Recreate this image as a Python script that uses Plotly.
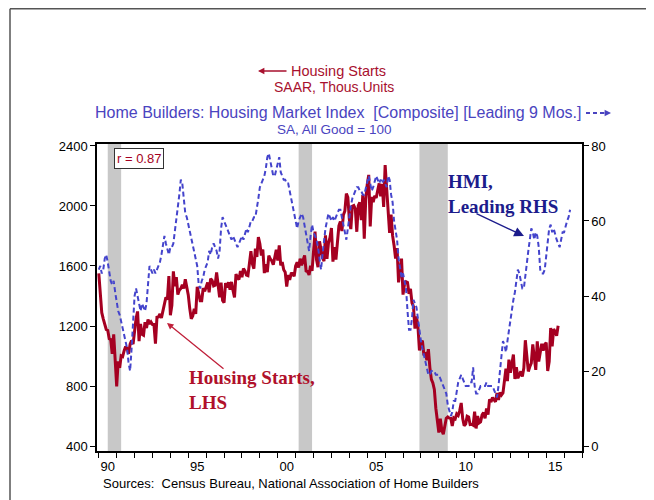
import plotly.graph_objects as go

# ---------------- data ----------------
hs_start_year = 1990  # monthly, Jan 1990 -> Sep 2015, SAAR thous. units
housing_starts = [
    1551, 1437, 1289, 1248, 1212, 1177, 1171, 1115, 1110, 1014, 1145, 969,
    798, 965, 921, 1001, 996, 1036, 1063, 1049, 1015, 1079, 1103, 1079,
    1176, 1250, 1297, 1099, 1214, 1145, 1139, 1226, 1186, 1244, 1214, 1227,
    1210, 1210, 1083, 1258, 1260, 1280, 1254, 1300, 1343, 1392, 1376, 1533,
    1272, 1337, 1564, 1465, 1526, 1409, 1439, 1450, 1474, 1450, 1511, 1455,
    1407, 1316, 1249, 1267, 1314, 1281, 1461, 1416, 1369, 1369, 1452, 1431,
    1467, 1491, 1424, 1516, 1504, 1467, 1472, 1557, 1475, 1392, 1489, 1370,
    1355, 1486, 1457, 1492, 1442, 1494, 1437, 1390, 1546, 1520, 1510, 1566,
    1525, 1584, 1567, 1540, 1536, 1641, 1698, 1614, 1582, 1715, 1660, 1792,
    1748, 1670, 1710, 1553, 1611, 1559, 1669, 1648, 1635, 1608, 1648, 1708,
    1636, 1737, 1604, 1626, 1575, 1559, 1463, 1541, 1507, 1549, 1551, 1532,
    1600, 1625, 1590, 1649, 1605, 1636, 1670, 1567, 1562, 1540, 1602, 1568,
    1698, 1829, 1642, 1592, 1764, 1717, 1655, 1633, 1804, 1648, 1753, 1788,
    1853, 1629, 1726, 1643, 1751, 1867, 1897, 1833, 1939, 1967, 2083, 2057,
    1911, 1846, 1998, 2003, 1981, 1828, 2002, 2024, 1905, 2072, 1782, 2042,
    2144, 2207, 1864, 2061, 2025, 2068, 2054, 2095, 2151, 2065, 2147, 1994,
    2273, 2119, 1969, 1821, 1942, 1802, 1737, 1650, 1720, 1491, 1570, 1649,
    1409, 1480, 1495, 1490, 1415, 1448, 1354, 1330, 1183, 1264, 1197, 1037,
    1084, 1103, 1005, 1013, 973, 1046, 923, 844, 820, 777, 652, 560,
    490, 582, 505, 478, 540, 585, 594, 586, 585, 534, 588, 581,
    614, 604, 636, 687, 583, 536, 546, 599, 594, 543, 545, 539,
    630, 517, 600, 554, 561, 608, 623, 585, 650, 610, 711, 694,
    723, 704, 695, 753, 708, 757, 740, 754, 847, 915, 833, 976,
    888, 962, 1010, 847, 925, 852, 883, 898, 863, 920, 1105, 1003,
    897, 928, 953, 1077, 1000, 908, 1098, 963, 1023, 1082, 1036, 1077,
    1089, 900, 962, 1187, 1064, 1179, 1163, 1135, 1202,
]

hmi_start_year, hmi_start_month = 1989, 4  # monthly NAHB HMI, Apr 1989 on
hmi_lead_months = 9
hmi = [
    47, 48, 46, 47, 50, 51, 49, 46, 44, 43, 44, 41,
    38, 36, 35, 33, 31, 30, 28, 26, 22, 20, 26, 33,
    40, 42, 40, 37, 36, 38, 37, 36, 38, 44, 48, 47,
    46, 47, 46, 47, 48, 49, 51, 54, 56, 54, 52, 51,
    53, 53, 54, 57, 61, 64, 67, 71, 70, 66, 62, 61,
    59, 57, 55, 53, 51, 50, 48, 43, 42, 44, 45, 47,
    48, 49, 52, 51, 53, 54, 53, 52, 50, 52, 58, 61,
    60, 59, 58, 57, 56, 55, 56, 55, 54, 53, 54, 55,
    56, 55, 57, 58, 57, 59, 60, 60, 61, 61, 63, 66,
    69, 70, 71, 72, 74, 77, 78, 76, 73, 72, 72, 74,
    76, 77, 73, 72, 71, 71, 70, 70, 68, 66, 65, 63,
    61, 58, 60, 61, 62, 61, 59, 56, 54, 52, 56, 59,
    57, 56, 55, 53, 49, 47, 51, 55, 58, 60, 62, 61,
    60, 61, 60, 61, 62, 63, 63, 61, 59, 57, 55, 58,
    62, 64, 66, 67, 68, 69, 69, 68, 68, 67, 67, 69,
    70, 72, 70, 68, 69, 71, 72, 71, 70, 71, 70, 71,
    70, 69, 72, 71, 67, 65, 60, 58, 55, 50, 47, 45,
    46, 44, 42, 36, 31, 31, 34, 39, 38, 37, 34, 30,
    28, 26, 24, 22, 20, 19, 19, 20, 20, 20, 19, 19,
    19, 18, 17, 16, 15, 14, 11, 9, 8, 9, 12, 12,
    15, 17, 18, 19, 18, 17, 16, 16, 16, 17, 17, 21,
    16, 14, 14, 15, 16, 16, 16, 16, 17, 16, 16, 16,
    16, 15, 14, 13, 16, 20, 25, 28, 27, 25, 28, 31,
    34, 36, 39, 41, 44, 47, 46, 44, 42, 42, 46, 50,
    52, 55, 58, 57, 55, 57, 56, 53, 47, 46, 46, 47,
    51, 54, 58, 59, 57, 58, 56, 55, 54, 53, 55, 57,
    57, 59, 60, 61, 63,
]

# NBER recessions (start month, end month inclusive)
recessions = [((1990, 7), (1991, 3)), ((2001, 3), (2001, 11)), ((2007, 12), (2009, 6))]

x_label_years = [1990, 1995, 2000, 2005, 2010, 2015]
x_label_text = ["90", "95", "00", "05", "10", "15"]
left_ticks = [400, 800, 1200, 1600, 2000, 2400]
right_ticks = [0, 20, 40, 60, 80]
correlation_text = "r = 0.87"

# ---------------- derived x values ----------------
hs_x = [hs_start_year + i / 12 for i in range(len(housing_starts))]
hmi_x = [hmi_start_year + (hmi_start_month - 1 + hmi_lead_months + i) / 12 for i in range(len(hmi))]

RED = "#A50021"
BLUE = "#4444CC"
NAVY = "#1C1C8C"
HDR_RED = "#A8102E"
HDR_BLUE = "#4A44C0"
FONT = "Liberation Sans, Arial, sans-serif"
SERIF = "Liberation Serif, Times New Roman, serif"

# page body has an 8px margin; work in page pixels and subtract it
OFF = 8
W, H = 654 - OFF, 500 - OFF
L, T = 97 - OFF, 144 - OFF
R, B = 72, 49
PW, PH = W - L - R, H - T - B


def px(xp):
    return (xp - OFF - L) / PW


def py(yp):
    return (H - B - (yp - OFF)) / PH


def ann(**kw):
    d = dict(xref="paper", yref="paper")
    d.update(kw)
    return d


fig = go.Figure()
fig.add_trace(go.Scatter(x=hmi_x, y=hmi, yaxis="y2", mode="lines",
                         line=dict(color=BLUE, width=2, dash="5px,3px"),
                         hoverinfo="skip"))
fig.add_trace(go.Scatter(x=hs_x, y=housing_starts, mode="lines",
                         line=dict(color=RED, width=3), hoverinfo="skip"))

shapes = []
for (sy, sm), (ey, em) in recessions:
    shapes.append(dict(type="rect", xref="x", yref="paper",
                       x0=sy + (sm - 1) / 12, x1=ey + em / 12, y0=0, y1=1,
                       fillcolor="#C8C8C8", line=dict(width=0), layer="below"))
# outer frame lines
frame = dict(color="#555555", width=1.5)
shapes.append(dict(type="line", xref="paper", yref="paper", x0=px(10), x1=px(654),
                   y0=py(8.8), y1=py(8.8), line=frame))
shapes.append(dict(type="line", xref="paper", yref="paper", x0=px(10), x1=px(10),
                   y0=py(8.8), y1=py(500), line=frame))
# dashed arrow after HMI heading
shapes.append(dict(type="line", xref="paper", yref="paper", x0=px(586), x1=px(604),
                   y0=py(113), y1=py(113), line=dict(color=HDR_BLUE, width=2, dash="4px,3px")))

annotations = [
    ann(text="Housing Starts", x=px(289), y=py(71), xanchor="left", yanchor="middle",
        font=dict(family=FONT, size=14.5, color=HDR_RED), showarrow=False),
    ann(text="", x=px(258), y=py(71), ax=30, ay=0, showarrow=True, arrowhead=2,
        arrowsize=0.8, arrowwidth=1.6, arrowcolor=HDR_RED),
    ann(text="SAAR, Thous.Units", x=px(334), y=py(87), xanchor="center", yanchor="middle",
        font=dict(family=FONT, size=14, color=HDR_RED), showarrow=False),
    ann(text="Home Builders: Housing Market Index \u00a0[Composite] [Leading 9 Mos.]",
        x=px(583), y=py(113), xanchor="right", yanchor="middle",
        font=dict(family=FONT, size=16, color=HDR_BLUE), showarrow=False),
    ann(text="", x=px(611), y=py(113), ax=-8, ay=0, showarrow=True, arrowhead=2,
        arrowsize=0.8, arrowwidth=1.6, arrowcolor=HDR_BLUE),
    ann(text="SA, All Good = 100", x=px(334), y=py(129), xanchor="center", yanchor="middle",
        font=dict(family=FONT, size=13.5, color=HDR_BLUE), showarrow=False),
    ann(text=correlation_text, x=px(139), y=py(158), xanchor="center", yanchor="middle",
        font=dict(family=FONT, size=13, color=RED), showarrow=False,
        bordercolor="#333333", borderwidth=1, borderpad=2, bgcolor="white"),
    ann(text="<b>Housing Starts,<br>LHS</b>", x=px(187), y=py(390), xanchor="left", yanchor="middle",
        align="left", font=dict(family=SERIF, size=19, color="#B0102A"), showarrow=False),
    ann(text="", x=px(167), y=py(323), ax=58, ay=47, showarrow=True, arrowhead=2,
        arrowsize=1, arrowwidth=1.3, arrowcolor="#C0203A"),
    ann(text="<b>HMI,<br>Leading RHS</b>", x=px(446), y=py(194), xanchor="left", yanchor="middle",
        align="left", font=dict(family=SERIF, size=19, color=NAVY), showarrow=False),
    ann(text="", x=px(524), y=py(236), ax=-49, ay=-23, showarrow=True, arrowhead=2,
        arrowsize=1.4, arrowwidth=1.4, arrowcolor=NAVY),
    ann(text="Sources: \u00a0Census Bureau, National Association of Home Builders",
        x=px(101), y=py(483), xanchor="left", yanchor="middle",
        font=dict(family=FONT, size=13, color="black"), showarrow=False),
]

axis_font = dict(family=FONT, size=13, color="black")
fig.update_layout(
    width=W, height=H,
    margin=dict(l=L, r=R, t=T, b=B),
    paper_bgcolor="white", plot_bgcolor="white",
    showlegend=False,
    shapes=shapes, annotations=annotations,
    xaxis=dict(range=[1989.9, 2017.0], tickmode="array",
               tickvals=[y + 0.5 for y in x_label_years], ticktext=x_label_text,
               ticks="outside", ticklen=3, tickcolor="rgba(0,0,0,0)",
               tickfont=axis_font, showline=True, linecolor="black", linewidth=1.5,
               mirror=True, showgrid=False, zeroline=False,
               minor=dict(tickmode="array", tickvals=list(range(1990, 2018)),
                          ticks="outside", ticklen=5, tickwidth=1, tickcolor="black",
                          showgrid=False)),
    yaxis=dict(range=[367, 2413], tickmode="array", tickvals=left_ticks,
               ticks="outside", ticklen=5, tickcolor="black", tickfont=axis_font,
               showline=True, linecolor="black", linewidth=1.5,
               showgrid=False, zeroline=False),
    yaxis2=dict(range=[-1.32, 80.52], overlaying="y", side="right", tickmode="array",
                tickvals=right_ticks, ticks="outside", ticklen=5, tickcolor="black",
                tickfont=axis_font, showline=True, linecolor="black", linewidth=1.5,
                showgrid=False, zeroline=False),
)

fig.write_html("out.html")
